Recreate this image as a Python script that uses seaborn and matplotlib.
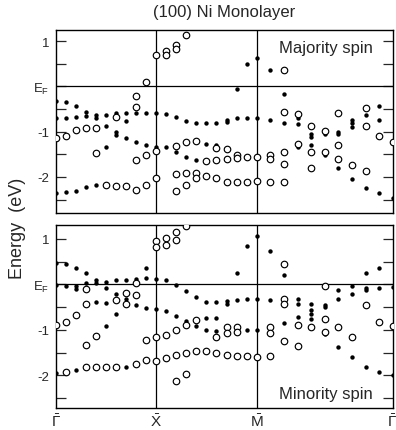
import matplotlib
matplotlib.use("Agg")
import matplotlib.pyplot as plt
from matplotlib.ticker import FixedLocator, MultipleLocator
from matplotlib.transforms import ScaledTranslation
import pandas as pd
import seaborn as sns

# Sampling positions along the surface Brillouin-zone path Γ-X-M-Γ
K_POINTS = [0.0, 0.1, 0.2, 0.3, 0.4, 0.5, 0.6, 0.7, 0.8, 0.9, 1.0,
            1.1, 1.2, 1.3, 1.4, 1.5, 1.6, 1.7, 1.8, 1.9, 2.0,
            2.136, 2.272, 2.408, 2.544, 2.680, 2.816, 2.952, 3.088, 3.224, 3.36]
SYM_POS = [0.0, 1.0, 2.0, 3.36]
SYM_LABELS = [r"$\bar{\Gamma}$", r"$\bar{\mathrm{X}}$", r"$\bar{\mathrm{M}}$", r"$\bar{\Gamma}$"]
Y_TICKS = [-2, -1, 0, 1]
Y_TICK_LABELS = ["-2", "-1", r"E$_\mathrm{F}$", "1"]

# Majority-spin states (eV relative to E_F), one list per k-point
MAJ_FILLED = [
    [-0.32, -0.70, -2.36], [-0.35, -0.70, -2.34], [-0.44, -0.68, -2.30],
    [-0.56, -0.66, -2.23], [-0.63, -0.69, -2.17], [-0.64, -0.87, -1.33],
    [-0.60, -1.00, -1.07], [-0.60, -0.77, -1.13], [-0.58, -1.22],
    [-0.58, -1.30], [-0.58, -1.33],
    [-0.61, -1.33], [-0.67, -1.46], [-0.77, -1.55], [-0.82, -1.63],
    [-0.82, -1.28], [-0.80, -1.29], [-0.75, -0.79], [-0.06, -0.71],
    [0.49, -0.70], [0.62, -0.70],
    [0.35, -0.74], [-0.16, -0.82], [-0.69, -0.83, -1.34],
    [-1.06, -1.12, -1.29], [-1.06, -1.52], [-1.01, -1.06, -1.80],
    [-0.74, -0.82, -0.89, -2.04], [-0.64, -2.24], [-0.44, -0.74, -2.36],
    [-2.47],
]
MAJ_OPEN = [
    [-1.15], [-1.10], [-0.96], [-0.93], [-0.92, -1.47], [-2.17],
    [-0.67, -2.21], [-2.21], [-0.21, -0.45, -1.62, -2.28],
    [0.09, -1.51, -2.17], [0.70, -1.43, -2.02],
    [0.77, 0.70], [0.91, 0.82, -1.31, -1.93, -2.31],
    [1.14, -1.23, -1.91, -2.18], [-1.21, -1.91, -2.02], [-1.65, -1.97],
    [-1.36, -1.63, -2.02], [-1.38, -1.61, -2.11], [-1.52, -1.59, -2.11],
    [-1.57, -2.11], [-1.57, -2.10],
    [-1.52, -1.60, -2.11], [0.35, -0.57, -1.45, -1.71, -2.12],
    [-0.62, -1.27], [-0.87, -1.45, -1.80], [-0.99, -1.44],
    [-0.59, -1.29, -1.61], [-1.73], [-0.47, -0.88, -1.86], [-1.10],
    [-1.23],
]

# Minority-spin states (eV relative to E_F), one list per k-point
MIN_FILLED = [
    [0.47, -0.02, -1.95], [0.45, -0.03], [0.37, -0.04, -0.10, -1.87],
    [0.25, 0.03], [0.10, 0.04, -0.38], [0.06, -0.07, -0.41, -0.91],
    [0.09, -0.21, -0.65], [0.09, -0.32, -1.81], [0.12, -0.45],
    [0.35, 0.13, -0.52], [0.12, -0.54],
    [0.09, -0.58], [-0.02, -0.70], [-0.14, -0.80], [-0.28, -0.91],
    [-0.38, -0.73, -1.00, -1.49], [-0.38, -0.73, -1.02], [-0.37, -0.43],
    [0.24, -0.35], [0.84, -0.33, -1.00], [1.06, -0.32, -1.00],
    [0.74, -0.35], [0.20, -0.84], [-0.31, -0.42, -0.72],
    [-0.42, -0.57, -0.66, -0.75], [-0.46, -0.50, -1.10],
    [-0.13, -0.33, -1.38], [-0.04, -0.21, -1.60],
    [0.24, -0.07, -0.13, -1.81], [0.36, -0.07, -1.92], [-0.05, -1.98],
]
MIN_OPEN = [
    [-0.89], [-0.83, -1.93], [-0.67], [-0.10, -0.43, -1.32, -1.82],
    [-1.13, -1.81], [-1.81], [-0.34, -1.81], [-0.19, -0.43],
    [0.03, -0.23, -1.75], [-1.22, -1.66], [0.96, 0.81, -1.16, -1.68],
    [1.02, 0.86, -1.11, -1.62], [1.15, 0.98, -1.00, -1.55, -2.13],
    [1.28, -0.89, -1.50, -1.96], [-0.79, -1.46], [-1.46],
    [-1.15, -1.51], [-0.94, -1.06, -1.55], [-0.94, -1.05, -1.57],
    [-1.57], [-1.59],
    [-0.94, -1.06, -1.57], [0.45, -0.31, -0.44, -1.24], [-0.89, -1.35],
    [-0.93], [-0.03, -0.77, -1.04], [-0.94], [-1.15], [-0.45], [-0.82],
    [-0.92],
]


def to_frame(columns):
    rows = [(k, e) for k, col in zip(K_POINTS, columns) for e in col]
    return pd.DataFrame(rows, columns=["k", "E"])


sns.set_style("ticks")
plt.rcParams["font.family"] = ["Liberation Sans", "DejaVu Sans"]
plt.rcParams["mathtext.fontset"] = "custom"
plt.rcParams["mathtext.rm"] = "Liberation Sans"
plt.rcParams["mathtext.it"] = "Liberation Sans:italic"
plt.rcParams["mathtext.bf"] = "Liberation Sans:bold"

W, H = 396, 431
fig = plt.figure(figsize=(W / 100, H / 100), dpi=100)


def frac_box(left, top, right, bottom):
    return [left / W, 1 - bottom / H, (right - left) / W, (bottom - top) / H]


ax_maj = fig.add_axes(frac_box(56, 30.7, 393, 213.7))
ax_min = fig.add_axes(frac_box(56, 225.7, 393, 409.3))

panels = [
    (ax_maj, MAJ_FILLED, MAJ_OPEN, (-2.79, 1.25), "Majority spin", 0.905),
    (ax_min, MIN_FILLED, MIN_OPEN, (-2.72, 1.31), "Minority spin", 0.078),
]

for ax, filled, opened, ylim, label, label_y in panels:
    ax.axhline(0, color="black", lw=0.9, zorder=1)
    for xv in SYM_POS[1:3]:
        ax.axvline(xv, color="black", lw=0.9, zorder=1)

    sns.scatterplot(data=to_frame(filled), x="k", y="E", ax=ax,
                    color="black", edgecolor="black", linewidth=0,
                    s=10, zorder=3, legend=False)
    sns.scatterplot(data=to_frame(opened), x="k", y="E", ax=ax,
                    color="white", edgecolor="black", linewidth=0.85,
                    s=22, zorder=4, legend=False)

    ax.set_xlim(SYM_POS[0], SYM_POS[-1])
    ax.set_ylim(*ylim)
    ax.set_xlabel("")
    ax.set_ylabel("")

    ax.yaxis.set_major_locator(FixedLocator(Y_TICKS))
    ax.set_yticklabels(Y_TICK_LABELS)
    ax.yaxis.set_minor_locator(MultipleLocator(0.5))
    ax.tick_params(axis="y", which="both", direction="in", length=7,
                   width=0.9, left=True, right=True, labelsize=9.5, pad=5)

    ax.set_xticks(SYM_POS)
    ax.tick_params(axis="x", which="both", length=0, labelsize=11, pad=3)

    for sp in ax.spines.values():
        sp.set_visible(True)
        sp.set_linewidth(1.0)
        sp.set_color("black")

    ax.text(0.80, label_y, label, transform=ax.transAxes,
            ha="center", va="center", fontsize=12)

ax_maj.set_xticklabels([])
ax_min.set_xticklabels(SYM_LABELS)
# keep the closing Γ label inside the figure edge
last = ax_min.get_xticklabels()[-1]
last.set_horizontalalignment("right")
last.set_transform(last.get_transform() + ScaledTranslation(4 / 100, 0, fig.dpi_scale_trans))

fig.text(224.5 / W, 1 - 13 / H, "(100) Ni Monolayer", ha="center",
         va="center", fontsize=12)
fig.text(18 / W, 1 - 228 / H, "Energy  (eV)", ha="center", va="center",
         rotation=90, fontsize=13)

fig.savefig("out.png", dpi=100)
